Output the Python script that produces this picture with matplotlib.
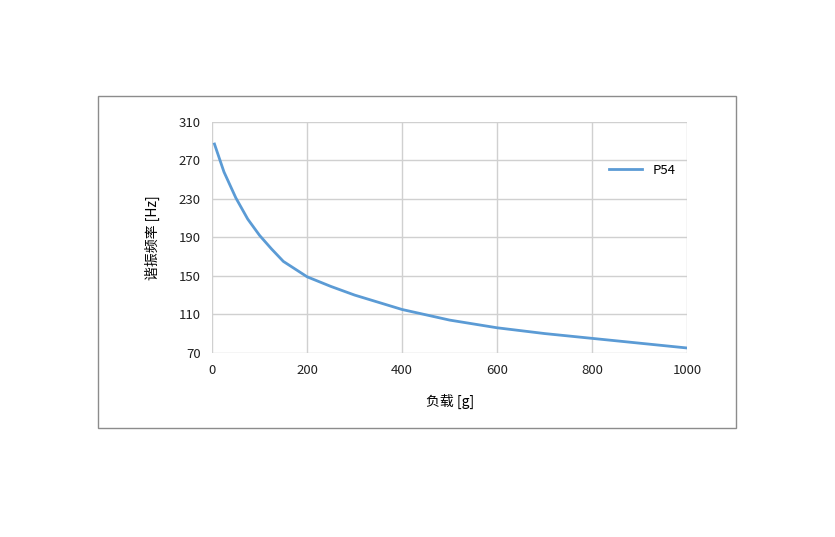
import matplotlib
matplotlib.use('Agg')
import matplotlib.pyplot as plt
import matplotlib.patches as patches

plt.rcParams['font.family'] = ['Noto Sans CJK SC', 'DejaVu Sans']

# data
load_g = [5, 25, 50, 75, 100, 125, 150, 200, 250, 300, 400, 500, 600, 700, 800, 900, 1000]
freq_hz = [287, 258, 231, 209, 192, 178, 165, 149, 139, 130, 115, 104, 96, 90, 85, 80, 75]
xticks = [0, 200, 400, 600, 800, 1000]
yticks = [70, 110, 150, 190, 230, 270, 310]

fig = plt.figure(figsize=(8.35, 5.37), dpi=100)
fig.patches.append(patches.Rectangle((0.117, 0.203), 0.765, 0.618, transform=fig.transFigure,
                                     fill=False, edgecolor='#8c8c8c', linewidth=1))
ax = fig.add_axes([0.254, 0.343, 0.569, 0.430])
ax.plot(load_g, freq_hz, color='#5b9bd5', linewidth=2, label='P54')
ax.set_xlim(0, 1000)
ax.set_ylim(70, 310)
ax.set_xticks(xticks)
ax.set_yticks(yticks)
ax.grid(True, color='#d0d0d0', linewidth=1)
ax.tick_params(length=0, labelsize=9.5, colors='#222222', pad=8)
for s in ax.spines.values():
    s.set_visible(False)
ax.set_xlabel('负载 [g]', fontsize=10, labelpad=12)
ax.set_ylabel('谐振频率 [Hz]', fontsize=10, labelpad=14)
ax.legend(loc='upper right', bbox_to_anchor=(1.0, 0.87), frameon=False, fontsize=9.5,
          handlelength=2.5)

fig.savefig('out.png', dpi=100)
